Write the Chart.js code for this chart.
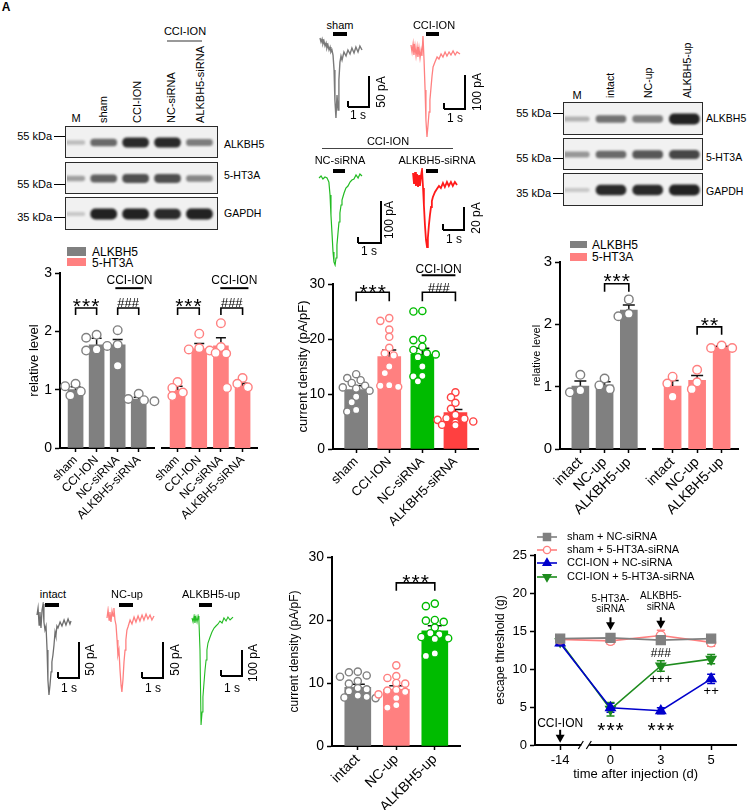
<!DOCTYPE html>
<html><head><meta charset="utf-8">
<script src="https://cdn.jsdelivr.net/npm/chart.js"></script>
<style>
html,body{margin:0;padding:0;background:#fff}
body{position:relative;width:749px;height:811px;overflow:hidden;font-family:"Liberation Sans",Arial,Helvetica,sans-serif}
canvas{position:absolute}
.t{position:absolute;white-space:nowrap;line-height:1;color:#000}
.r{position:absolute}
.fr{position:absolute;box-sizing:border-box;border:1.5px solid #2a2a2a;background:#f1f1f1}
</style></head><body>
<script>
// ================= DATA =================
// Western blot (relative band intensity 0..1)
const blotALanes = ['M','sham','CCI-ION','NC-siRNA','ALKBH5-siRNA'];
const blotProteins = ['ALKBH5','5-HT3A','GAPDH'];
const blotMarkers = ['55 kDa','55 kDa','35 kDa'];
const blotA_ALKBH5 = [0.15,0.6,0.95,0.95,0.5];
const blotA_5HT3A  = [0.3,0.65,0.75,0.75,0.45];
const blotA_GAPDH  = [0.08,1.0,1.0,0.95,1.0];
const blotBLanes = ['M','intact','NC-up','ALKBH5-up'];
const blotB_ALKBH5 = [0.2,0.55,0.5,1.0];
const blotB_5HT3A  = [0.35,0.6,0.7,0.8];
const blotB_GAPDH  = [0.08,0.95,0.95,1.0];

// Current traces: [time (s), current (pA)]
const traceSham = [[0,19.4],[0.05,12.9],[0.1,17.7],[0.14,9.7],[0.19,14.5],[0.24,6.5],[0.29,11.3],[0.33,3.2],[0.38,8.1],[0.43,0],[0.48,4.8],[0.52,-3.2],[0.57,0],[0.62,-8.1],[0.67,-32.3],[0.71,-80.6],[0.76,-109.7],[0.81,-72.6],[0.86,-96.8],[0.9,-48.4],[0.95,-19.4],[1.0,-9.7],[1.05,-16.1],[1.14,-3.2],[1.24,-9.7],[1.33,0],[1.43,-6.5],[1.52,3.2],[1.62,-4.8],[1.71,4.8],[1.81,-3.2],[1.9,6.5],[2.0,0]];
const traceCCI = [[0,29.4],[0.05,8.8],[0.1,32.4],[0.14,0],[0.19,26.5],[0.24,-2.9],[0.29,23.5],[0.33,-5.9],[0.38,20.6],[0.43,-8.8],[0.48,14.7],[0.52,-2.9],[0.57,55.9],[0.62,-14.7],[0.67,-102.9],[0.71,-191.2],[0.76,-241.2],[0.81,-205.9],[0.86,-167.6],[0.9,-132.4],[0.95,-97.1],[1.0,-61.8],[1.05,-35.3],[1.14,-20.6],[1.24,-5.9],[1.33,-11.8],[1.43,2.9],[1.52,-5.9],[1.62,8.8],[1.71,-2.9],[1.81,8.8],[1.9,0],[2.0,11.8],[2.1,0],[2.19,8.8],[2.33,2.9]];
const traceNCsiRNA = [[0,4.7],[0.09,9.3],[0.17,2.3],[0.26,7.0],[0.35,4.7],[0.43,-4.7],[0.48,-34.9],[0.52,-81.4],[0.57,-127.9],[0.61,-167.4],[0.65,-190.7],[0.7,-197.7],[0.74,-181.4],[0.78,-151.2],[0.83,-120.9],[0.87,-97.7],[0.91,-76.7],[0.96,-58.1],[1.0,-46.5],[1.09,-30.2],[1.17,-18.6],[1.26,-14.0],[1.35,-4.7],[1.43,0],[1.52,2.3],[1.61,11.6],[1.7,4.7],[1.78,14.0],[1.87,9.3]];
const traceALKsiRNA = [[0,6.1],[0.05,-3.5],[0.1,7.0],[0.14,-5.2],[0.19,5.2],[0.24,-6.1],[0.29,4.3],[0.33,-5.2],[0.38,3.5],[0.43,8.7],[0.48,-7.0],[0.52,-21.7],[0.57,-39.1],[0.62,-52.2],[0.67,-58.3],[0.71,-50.4],[0.76,-39.1],[0.81,-30.4],[0.86,-23.5],[0.9,-18.3],[0.95,-14.8],[1.05,-10.4],[1.14,-7.8],[1.24,-5.2],[1.33,-7.0],[1.43,-2.6],[1.52,-6.1],[1.62,-1.7],[1.71,-5.2],[1.81,-1.7],[1.9,-5.2],[2.0,-1.7],[2.1,-4.3]];
const traceIntact = [[0,9.7],[0.05,19.4],[0.1,-4.2],[0.14,13.9],[0.19,-8.3],[0.24,16.7],[0.29,25.0],[0.33,0],[0.38,-11.1],[0.43,-5.6],[0.48,-38.9],[0.52,-80.6],[0.57,-101.4],[0.62,-87.5],[0.67,-69.4],[0.71,-55.6],[0.76,-45.8],[0.81,-31.9],[0.86,-13.9],[0.9,-19.4],[0.95,-5.6],[1.0,-8.3],[1.1,0],[1.19,-5.6],[1.29,2.8],[1.38,-4.2],[1.48,4.2],[1.57,-2.8],[1.62,1.4]];
const traceNCup = [[0,2.8],[0.05,13.9],[0.1,0],[0.14,11.1],[0.19,-2.8],[0.24,12.5],[0.29,5.6],[0.33,16.7],[0.38,0],[0.43,-6.9],[0.48,-27.8],[0.52,-48.6],[0.57,-41.7],[0.62,-69.4],[0.67,-90.3],[0.71,-100.0],[0.76,-83.3],[0.81,-58.3],[0.86,-41.7],[0.9,-27.8],[0.95,-13.9],[1.0,-9.7],[1.1,0],[1.19,-5.6],[1.29,4.2],[1.38,-2.8],[1.48,5.6],[1.57,-1.4],[1.67,6.9],[1.76,0],[1.86,8.3],[1.95,1.4],[2.05,6.9],[2.14,0],[2.24,5.6]];
const traceALKup = [[0,7.7],[0.05,-7.7],[0.1,15.4],[0.14,-11.5],[0.19,11.5],[0.24,-7.7],[0.29,15.4],[0.33,-3.8],[0.38,-115.4],[0.43,-403.8],[0.48,-353.8],[0.52,-296.2],[0.57,-242.3],[0.62,-192.3],[0.67,-153.8],[0.71,-115.4],[0.76,-88.5],[0.86,-65.4],[0.95,-46.2],[1.05,-30.8],[1.14,-23.1],[1.24,-15.4],[1.33,-3.8],[1.43,-11.5],[1.52,7.7],[1.62,-3.8],[1.71,11.5],[1.81,0],[1.95,11.5]];

// Panel: relative level (CCI-ION / siRNA)
const groupsC = ['sham','CCI-ION','NC-siRNA','ALKBH5-siRNA'];
const alkC_mean = [1.00,1.77,1.77,0.84];
const alkC_sem  = [0.05,0.11,0.09,0.03];
const alkC_pts  = [[1.10,1.06,0.97,0.90],[1.94,1.89,1.69,1.67],[2.02,1.77,1.75,1.41],[0.93,0.84,0.82,0.80]];
const htC_mean  = [1.00,1.70,1.75,1.07];
const htC_sem   = [0.06,0.09,0.14,0.04];
const htC_pts   = [[1.13,1.03,0.95,0.89],[1.96,1.71,1.67,1.69],[2.14,1.73,1.63,1.62],[1.20,1.10,1.03,1.04]];

// Panel: current density (CCI-ION / siRNA)
const curD_mean = [10.8,16.8,17.2,6.6];
const curD_sem  = [0.7,1.2,1.1,0.6];
const curD_pts  = [
  [13.6,12.9,12.5,12.0,11.5,11.2,11.0,10.6,9.5,8.5,7.1,6.8],
  [23.8,23.3,21.7,20.4,18.4,17.4,17.0,15.0,13.8,11.5,11.6,11.3],
  [25.1,25.0,20.0,19.8,18.6,18.0,17.4,17.2,16.7,15.0,13.3,13.2,12.3],
  [10.3,9.4,8.4,7.3,6.2,5.6,5.5,5.3,5.0,4.8,4.4,4.3]];

// Panel: relative level (overexpression)
const groupsE = ['intact','NC-up','ALKBH5-up'];
const alkE_mean = [1.01,1.03,2.23];
const alkE_sem  = [0.08,0.05,0.08];
const alkE_pts  = [[1.19,0.94,0.91],[1.13,1.02,0.96],[2.40,2.17,2.13]];
const htE_mean  = [1.01,1.10,1.63];
const htE_sem   = [0.09,0.08,0.02];
const htE_pts   = [[1.16,1.05,0.84],[1.27,1.07,0.96],[1.66,1.62,1.62]];

// Panel: current density (overexpression)
const curF_mean = [9.3,9.0,18.3];
const curF_sem  = [0.5,0.55,0.8];
const curF_pts  = [
  [11.8,11.7,11.2,11.0,10.3,9.9,9.2,9.0,8.7,8.0,7.8,7.7,7.6],
  [12.8,11.1,10.8,10.0,9.9,8.9,8.8,8.6,8.2,7.6,6.5,6.1],
  [22.6,22.2,20.0,19.9,19.7,18.8,17.9,17.7,17.3,17.1,17.0,14.7,14.3]];

// Panel: escape threshold time course
const daysG = ['-14','0','3','5'];
const legendG = ['sham + NC-siRNA','sham + 5-HT3A-siRNA','CCI-ION + NC-siRNA','CCI-ION + 5-HT3A-siRNA'];
const shamNC   = [14.0,14.1,13.8,14.0];
const sham5HT  = [13.9,13.7,14.4,13.5];
const cciNC    = [13.4,4.9,4.5,8.7];
const cci5HT   = [13.6,4.7,10.4,11.3];
const shamNC_err  = [0.3,0.3,0.3,0.3];
const sham5HT_err = [0.3,0.4,0.7,0.5];
const cciNC_err   = [0.3,0.6,0.4,0.6];
const cci5HT_err  = [0.3,0.9,0.7,0.6];
const seriesG = [shamNC, sham5HT, cciNC, cci5HT];
const errG = [shamNC_err, sham5HT_err, cciNC_err, cci5HT_err];

// ================= HELPERS =================
const FONT = '"Liberation Sans", Arial, sans-serif';
Chart.defaults.font.family = FONT;
Chart.defaults.color = '#000';
Chart.defaults.animation = false;
Chart.defaults.responsive = false;
Chart.defaults.maintainAspectRatio = false;
Chart.defaults.plugins.legend.display = false;
Chart.defaults.plugins.tooltip.enabled = false;
Chart.defaults.events = [];

const GRAY='#808080', PINK='#ff8080', GREEN='#00bb00', RED='#ff4040';

function T(text,x,y,o={}){
  const d=document.createElement('div');d.className='t';d.textContent=text;
  d.style.fontSize=(o.size||11)+'px';d.style.left=x+'px';d.style.top=y+'px';
  if(o.bold)d.style.fontWeight='bold';
  let tf;
  if(o.rot==='up'){d.style.transformOrigin='0 0';tf='rotate(-90deg) translate(0,-50%)';}
  else if(o.rot==='v'){tf='translate(-50%,-50%) rotate(-90deg)';}
  else if(o.align==='right'){tf='translate(-100%,-50%)';}
  else if(o.align==='left'){tf='translate(0,-50%)';}
  else tf='translate(-50%,-50%)';
  d.style.transform=tf;document.body.appendChild(d);
}
function R(x,y,w,h,c){const d=document.createElement('div');d.className='r';
  Object.assign(d.style,{left:x+'px',top:y+'px',width:w+'px',height:h+'px',background:c});document.body.appendChild(d);}
function cv(l,t,w,h){const c=document.createElement('canvas');c.width=w;c.height=h;
  Object.assign(c.style,{left:l+'px',top:t+'px',width:w+'px',height:h+'px'});document.body.appendChild(c);return c;}
const fix = sz => s => { if(s.isHorizontal()) s.height=sz; else s.width=sz; s.paddingLeft=s.paddingRight=s.paddingTop=s.paddingBottom=0; };

function swarm(vals,pxX,pxY,r){
  const placed=[],out=new Array(vals.length);
  const order=vals.map((v,i)=>i).sort((a,b)=>vals[b]-vals[a]);
  const cand=[0,-1,1,-2,2,-3,3,-4,4],step=r*1.25;
  order.forEach(i=>{
    const yp=vals[i]*pxY;
    for(const c of cand){const xp=c*step;
      if(placed.every(p=>Math.hypot(p.x-xp,p.y-yp)>=2*r*0.92)){placed.push({x:xp,y:yp});out[i]=xp/pxX;return;}}
    placed.push({x:0,y:yp});out[i]=0;
  });
  return out;
}

function errPlugin(means,sems,capW){return{id:'err',afterDatasetDraw(ch,args){
  if(args.index!==0)return;const ctx=ch.ctx,xs=ch.scales.x,ys=ch.scales.y;
  ctx.save();ctx.strokeStyle='#111';ctx.lineWidth=1.5;
  means.forEach((m,i)=>{const x=xs.getPixelForValue(i),y0=ys.getPixelForValue(m),y1=ys.getPixelForValue(m+sems[i]);
    ctx.beginPath();ctx.moveTo(x,y0);ctx.lineTo(x,y1);ctx.moveTo(x-capW/2,y1);ctx.lineTo(x+capW/2,y1);ctx.stroke();});
  ctx.restore();}};}

function annotPlugin(items){return{id:'annot',afterDraw(ch){
  const ctx=ch.ctx,xs=ch.scales.x,ys=ch.scales.y;ctx.save();ctx.strokeStyle='#000';ctx.fillStyle='#000';
  ctx.textAlign='center';ctx.textBaseline='alphabetic';
  const txt=(s,x,cy,size)=>{const ast=s.includes('*');ctx.font=size+'px '+FONT;
    ctx.letterSpacing=ast?'1px':'0px';ctx.fillText(s,x+(ast?0.5:0),cy+(ast?0.57:0.36)*size);};
  items.forEach(a=>{
    if(a.k==='br'){const x1=xs.getPixelForValue(a.a),x2=xs.getPixelForValue(a.b),y=ys.getPixelForValue(a.y);
      ctx.lineWidth=1.6;ctx.beginPath();ctx.moveTo(x1,y+a.drop);ctx.lineTo(x1,y);ctx.lineTo(x2,y);ctx.lineTo(x2,y+a.drop);ctx.stroke();
      txt(a.text,(x1+x2)/2,y+a.dc,a.size);}
    else if(a.k==='ln'){const x1=xs.getPixelForValue(a.a),x2=xs.getPixelForValue(a.b),y=ys.getPixelForValue(a.y);
      ctx.lineWidth=2;ctx.beginPath();ctx.moveTo(x1,y);ctx.lineTo(x2,y);ctx.stroke();txt(a.text,(x1+x2)/2,y+a.dc,a.size);}
    else if(a.k==='tx'){txt(a.text,xs.getPixelForValue(a.x),ys.getPixelForValue(a.y),a.size);}
    else if(a.k==='ar'){const x=xs.getPixelForValue(a.x),y1=ys.getPixelForValue(a.y1),y2=ys.getPixelForValue(a.y2);
      ctx.lineWidth=2;ctx.beginPath();ctx.moveTo(x,y1);ctx.lineTo(x,y2-6);ctx.stroke();
      ctx.beginPath();ctx.moveTo(x-4.5,y2-8);ctx.lineTo(x+4.5,y2-8);ctx.lineTo(x,y2);ctx.closePath();ctx.fill();}
  });ctx.restore();}};}

function barPanel(o){
  const w=o.plotR-o.cl+o.padR,h=o.plotB-o.ct+o.xH;const c=cv(o.cl,o.ct,w,h);
  const pxX=(o.plotR-o.plotL)/(o.xMax-o.xMin),pxY=(o.plotB-o.plotT)/(o.yMax-o.yMin);
  const sc=[],scCol=[];
  o.pts.forEach((vals,gi)=>{const off=swarm(vals,pxX,pxY,o.r);vals.forEach((v,k)=>{sc.push({x:gi+off[k],y:v});scCol.push(o.colors[gi]);});});
  new Chart(c,{type:'bar',data:{datasets:[
    {type:'bar',data:o.means.map((v,i)=>({x:i,y:v})),backgroundColor:o.colors,barThickness:o.barW,order:2},
    {type:'scatter',data:sc,pointRadius:o.r,pointBackgroundColor:'#fff',pointBorderColor:scCol,pointBorderWidth:1.4,clip:false,order:1}
  ]},options:{
    layout:{padding:{left:o.showY?0:o.plotL-o.cl,top:o.plotT-o.ct,right:o.padR,bottom:0}},
    scales:{
      x:{type:'linear',offset:false,min:o.xMin,max:o.xMax,
        afterBuildTicks:s=>{s.ticks=o.labels.map((_,i)=>({value:i}));},
        ticks:{autoSkip:false,minRotation:45,maxRotation:45,padding:1,font:{size:o.xSize},callback:(v,i)=>o.labels[i]},
        grid:{display:true,offset:false,drawOnChartArea:false,drawTicks:true,tickLength:4,tickColor:'#000',tickWidth:1.5},
        border:{display:true,color:'#000',width:2},afterFit:fix(o.xH)},
      y:{display:o.showY,min:o.yMin,max:o.yMax,
        ticks:{stepSize:o.yStep,font:{size:o.tickSize},padding:3},
        grid:{drawOnChartArea:false,tickLength:5,tickColor:'#000',tickWidth:1.5},
        border:{color:'#000',width:2},
        title:{display:!!o.yTitle,text:o.yTitle||'',font:{size:o.titleSize||13},padding:0},
        afterFit:fix(o.showY?o.plotL-o.cl:0)}
    }},
    plugins:[errPlugin(o.means,o.sems,o.capW),annotPlugin(o.annots||[])]});
}

const blurPlugin={id:'blur',beforeDatasetsDraw(ch){ch.ctx.save();ch.ctx.filter='blur(1px)';},afterDatasetsDraw(ch){ch.ctx.restore();}};
function blotRow(l,t,w,h,vals,xMin,xMax,bandW){
  const f=document.createElement('div');f.className='fr';
  Object.assign(f.style,{left:l+'px',top:t+'px',width:w+'px',height:h+'px'});document.body.appendChild(f);
  const c=cv(l+1.5,t+1.5,w-3,h-3);
  new Chart(c,{type:'bar',data:{datasets:[{
    data:vals.map((v,i)=>({x:i,y:[0.5-(0.05+0.12*v),0.5+(0.05+0.12*v)]})),
    backgroundColor:vals.map(v=>'rgba(22,22,22,'+(0.12+0.83*v).toFixed(2)+')'),
    barThickness:bandW,borderRadius:5,borderSkipped:false}]},
    options:{layout:{padding:0},scales:{x:{type:'linear',offset:false,display:false,min:xMin,max:xMax},y:{display:false,min:0,max:1}}},
    plugins:[blurPlugin]});
}

function trace(l,t,w,h,pts,color,lw){
  const c=cv(l,t,w,h);const xs=pts.map(p=>p[0]),ys=pts.map(p=>p[1]);
  new Chart(c,{type:'line',data:{datasets:[{data:pts.map(p=>({x:p[0],y:p[1]})),borderColor:color,borderWidth:lw,pointRadius:0,tension:0,clip:false}]},
    options:{layout:{padding:2},scales:{x:{type:'linear',display:false,min:Math.min(...xs),max:Math.max(...xs)},y:{display:false,min:Math.min(...ys),max:Math.max(...ys)}}}});
}
function scaleBar(x1,x2,y,vtop,sx,sy,pa,px,py){
  R(x1,y-0.75,x2-x1+0.75,1.5,'#000');R(x2-0.75,vtop,1.5,y-vtop+0.75,'#000');R(x1-0.75,y-6,1.5,6,'#000');
  T('1 s',sx,sy,{size:12});T(pa,px,py,{size:12,rot:'v'});
}

// ================= BLOT PANELS =================
T('A',6,7,{size:12,bold:true});
T('M',76,118);
[['sham',103],['CCI-ION',137],['NC-siRNA',171],['ALKBH5-siRNA',200]].forEach(([s,x])=>T(s,x,123,{rot:'up'}));
T('CCI-ION',185,31);R(167,40,35,1.5,'#999');
[[136],[184],[217]].forEach(([y],i)=>{T(blotMarkers[i],52,y,{align:'right'});R(54,y-0.5,11,1.2,'#000');});
blotRow(65,126,153,32,blotA_ALKBH5,-0.15,4.55,26);
blotRow(65,162,153,32,blotA_5HT3A,-0.15,4.55,26);
blotRow(65,197,153,33,blotA_GAPDH,-0.15,4.55,26);
[[144],[175],[213]].forEach(([y],i)=>T(blotProteins[i],224,y,{size:10.5,align:'left'}));

T('M',577,95);
[['intact',610],['NC-up',648],['ALKBH5-up',687]].forEach(([s,x])=>T(s,x,98,{size:10.5,rot:'up'}));
[[113],[158],[193]].forEach(([y],i)=>{T(blotMarkers[i],551,y,{align:'right'});R(553,y-0.5,10,1.2,'#000');});
blotRow(563,102,140,33,blotB_ALKBH5,-0.253,3.48,30);
blotRow(563,138,140,32,blotB_5HT3A,-0.253,3.48,30);
blotRow(563,173,140,33,blotB_GAPDH,-0.253,3.48,30);
[[118],[157],[191]].forEach(([y],i)=>T(blotProteins[i],706,y,{size:10.5,align:'left'}));

// ================= TRACES =================
T('sham',340,25);R(333,32,14,3.5,'#000');
trace(318,36,46,84,traceSham,'#7a7a7a',1.4);
scaleBar(348,369,107,76,358,115,'50 pA',381,92);
T('CCI-ION',434,25);R(426,32,13,3.5,'#000');
trace(409,34,53,105,traceCCI,'#ff8080',1.3);
scaleBar(444,465,109,75,455,118,'100 pA',477,92);
T('CCI-ION',388,141);R(322,148,131,1,'#444');
T('NC-siRNA',340,160);R(333,169,12,3.5,'#000');
trace(317,172,47,95,traceNCsiRNA,'#22bb22',1.2);
scaleBar(358,381,243,201,369,251,'100 pA',389,220);
T('ALKBH5-siRNA',437,160);R(426,169,12,3.5,'#000');
trace(411,168,48,81,traceALKsiRNA,'#ff1a1a',1.8);
scaleBar(443,464,230,207,454,239,'20 pA',476,218);

T('intact',53,594);R(45,603,14,3.5,'#000');
trace(35,602,38,95,traceIntact,'#6e6e6e',1.3);
scaleBar(58,79,678,642,69,688,'50 pA',90,660);
T('NC-up',127,594);R(119,603,14,3.5,'#000');
trace(105,606,51,88,traceNCup,'#ff8080',1.3);
scaleBar(142,163,678,642,153,688,'50 pA',175,660);
T('ALKBH5-up',211,594);R(199,603,13,3.5,'#000');
trace(190,614,45,113,traceALKup,'#22bb22',1.1);
scaleBar(221,242,676,650,232,688,'100 pA',253,663);

// ================= BAR PANELS =================
R(67,247,19,9,GRAY);R(67,258,19,8,PINK);
T('ALKBH5',92,252,{size:12,align:'left'});T('5-HT3A',92,263,{size:12,align:'left'});
barPanel({cl:27,ct:263,plotL:60,plotT:273,plotR:157,plotB:448,padR:3,xH:80,showY:true,
  yMin:0,yMax:3,yStep:1,xMin:-0.74,xMax:3.74,labels:groupsC,means:alkC_mean,sems:alkC_sem,pts:alkC_pts,
  colors:[GRAY,GRAY,GRAY,GRAY],r:4.3,barW:15,capW:10,yTitle:'relative level',titleSize:13,tickSize:14,xSize:12,
  annots:[{k:'br',a:0,b:1,y:2.4,drop:7,text:'***',size:21,dc:-7},{k:'br',a:2,b:3,y:2.4,drop:7,text:'###',size:13,dc:-6},
          {k:'ln',a:1.89,b:3.23,y:2.74,text:'CCI-ION',size:12,dc:-8}]});
barPanel({cl:110,ct:263,plotL:162,plotT:273,plotR:260,plotB:448,padR:3,xH:80,showY:false,
  yMin:0,yMax:3,yStep:1,xMin:-0.72,xMax:3.68,labels:groupsC,means:htC_mean,sems:htC_sem,pts:htC_pts,
  colors:[PINK,PINK,PINK,PINK],r:4.3,barW:15,capW:10,xSize:12,
  annots:[{k:'br',a:0,b:1,y:2.4,drop:7,text:'***',size:21,dc:-7},{k:'br',a:2,b:3,y:2.4,drop:7,text:'###',size:13,dc:-6},
          {k:'ln',a:1.97,b:3.27,y:2.74,text:'CCI-ION',size:12,dc:-8}]});

barPanel({cl:296,ct:255,plotL:333,plotT:284,plotR:480,plotB:449,padR:4,xH:85,showY:true,
  yMin:0,yMax:30,yStep:10,xMin:-0.7,xMax:3.7,labels:groupsC,means:curD_mean,sems:curD_sem,pts:curD_pts,
  colors:[GRAY,PINK,GREEN,RED],r:3.6,barW:23,capW:14,yTitle:'current density (pA/pF)',titleSize:13,tickSize:14,xSize:13,
  annots:[{k:'br',a:0,b:1,y:28.5,drop:9,text:'***',size:21,dc:-5},{k:'br',a:2,b:3,y:28.5,drop:9,text:'###',size:13,dc:-5},
          {k:'ln',a:1.98,b:3.0,y:31.6,text:'CCI-ION',size:12,dc:-7}]});

R(570,241,17,7,GRAY);R(570,253,17,8,PINK);
T('ALKBH5',592,245,{size:12,align:'left'});T('5-HT3A',592,257,{size:12,align:'left'});
barPanel({cl:530,ct:250,plotL:560,plotT:262,plotR:648,plotB:449,padR:3,xH:80,showY:true,
  yMin:0,yMax:3,yStep:1,xMin:-0.84,xMax:2.68,labels:groupsE,means:alkE_mean,sems:alkE_sem,pts:alkE_pts,
  colors:[GRAY,GRAY,GRAY],r:4.3,barW:17,capW:12,yTitle:'relative level',titleSize:11,tickSize:15,xSize:14,
  annots:[{k:'br',a:1,b:2,y:2.65,drop:8,text:'***',size:21,dc:-8}]});
barPanel({cl:600,ct:250,plotL:653,plotT:262,plotR:740,plotB:449,padR:4,xH:80,showY:false,
  yMin:0,yMax:3,yStep:1,xMin:-0.8,xMax:2.68,labels:groupsE,means:htE_mean,sems:htE_sem,pts:htE_pts,
  colors:[PINK,PINK,PINK],r:4.3,barW:17,capW:12,xSize:14,
  annots:[{k:'br',a:1,b:2,y:1.96,drop:8,text:'**',size:21,dc:-7}]});

barPanel({cl:287,ct:542,plotL:332,plotT:557,plotR:462,plotB:746,padR:4,xH:64,showY:true,
  yMin:0,yMax:30,yStep:10,xMin:-0.67,xMax:2.67,labels:groupsE,means:curF_mean,sems:curF_sem,pts:curF_pts,
  colors:[GRAY,PINK,GREEN],r:3.6,barW:26,capW:14,yTitle:'current density (pA/pF)',titleSize:12,tickSize:14,xSize:14,
  annots:[{k:'br',a:1,b:2,y:25.9,drop:8,text:'***',size:21,dc:-6}]});

// ================= TIME COURSE =================
const gSty=[{c:'#808080',ps:'rect',r:6.3,fill:'#808080',rot:0},{c:'#ff7f7f',ps:'circle',r:4.5,fill:'#fff',rot:0},
            {c:'#0000cc',ps:'triangle',r:5.5,fill:'#0000cc',rot:0},{c:'#1e8c1e',ps:'triangle',r:5.5,fill:'#1e8c1e',rot:180}];
function marker(ctx,s,x,y,k){ctx.save();ctx.fillStyle=s.fill;ctx.strokeStyle=s.c;ctx.lineWidth=1.4;ctx.beginPath();const r=s.r*k;
  if(s.ps==='rect'){const h=r*Math.SQRT1_2;ctx.rect(x-h,y-h,2*h,2*h);}
  else if(s.ps==='circle'){ctx.arc(x,y,r,0,Math.PI*2);}
  else{const d=s.rot?-1:1;ctx.moveTo(x,y-d*r);ctx.lineTo(x-0.866*r,y+d*0.5*r);ctx.lineTo(x+0.866*r,y+d*0.5*r);ctx.closePath();}
  ctx.fill();ctx.stroke();ctx.restore();}
const gErr={id:'gerr',beforeDatasetsDraw(ch){const ctx=ch.ctx,xs=ch.scales.x,ys=ch.scales.y;ctx.save();ctx.lineWidth=1.5;
  seriesG.forEach((vals,i)=>{ctx.strokeStyle=gSty[i].c;vals.forEach((v,j)=>{const x=xs.getPixelForValue(j),
    y1=ys.getPixelForValue(v-errG[i][j]),y2=ys.getPixelForValue(v+errG[i][j]);ctx.beginPath();ctx.moveTo(x,y1);ctx.lineTo(x,y2);
    ctx.moveTo(x-4,y1);ctx.lineTo(x+4,y1);ctx.moveTo(x-4,y2);ctx.lineTo(x+4,y2);ctx.stroke();});});ctx.restore();}};
const gLegend={id:'glg',afterDraw(ch){const ctx=ch.ctx,a=ch.chartArea,x=a.left+12,tx=a.left+32,offs=[-18,-5,8,22];
  ctx.save();ctx.font='11px '+FONT;ctx.textBaseline='middle';ctx.textAlign='left';
  legendG.forEach((lab,i)=>{const y=a.top+offs[i],s=gSty[i];ctx.strokeStyle=s.c;ctx.lineWidth=1.6;ctx.beginPath();
    ctx.moveTo(x-10,y);ctx.lineTo(x+10,y);ctx.stroke();marker(ctx,s,x,y,0.8);ctx.fillStyle='#000';ctx.fillText(lab,tx,y);});
  ctx.restore();}};
const gBreak={id:'brk',afterDraw(ch){const ctx=ch.ctx,xs=ch.scales.x,b=ch.chartArea.bottom;
  const x=(xs.getPixelForValue(0)+xs.getPixelForValue(1))/2;ctx.save();ctx.fillStyle='#fff';ctx.fillRect(x-4,b-3,8,6);
  ctx.strokeStyle='#000';ctx.lineWidth=1.2;ctx.beginPath();ctx.moveTo(x-7,b+4);ctx.lineTo(x-2,b-4);ctx.moveTo(x+1,b+4);ctx.lineTo(x+6,b-4);
  ctx.stroke();ctx.restore();}};
const annotsG=[{k:'tx',x:1,y:19.3,text:'5-HT3A-',size:10},{k:'tx',x:1,y:18.0,text:'siRNA',size:10},{k:'ar',x:1,y1:16.8,y2:15.1},
  {k:'tx',x:2,y:19.7,text:'ALKBH5-',size:10},{k:'tx',x:2,y:18.3,text:'siRNA',size:10},{k:'ar',x:2,y1:16.8,y2:15.3},
  {k:'tx',x:0,y:2.9,text:'CCI-ION',size:12},{k:'ar',x:0,y1:2.0,y2:0.3},
  {k:'tx',x:1,y:2.6,text:'***',size:21},{k:'tx',x:2,y:2.6,text:'***',size:21},
  {k:'tx',x:2,y:12.1,text:'###',size:12},{k:'tx',x:2,y:8.8,text:'+++',size:13},{k:'tx',x:3,y:7.2,text:'++',size:13}];
const cG=cv(493,525,251,257);
new Chart(cG,{type:'line',data:{labels:daysG,datasets:seriesG.map((vals,i)=>({data:vals,borderColor:gSty[i].c,borderWidth:1.6,
  pointStyle:gSty[i].ps,pointRadius:gSty[i].r,pointRotation:gSty[i].rot,pointBackgroundColor:gSty[i].fill,
  pointBorderColor:gSty[i].c,pointBorderWidth:1.4,tension:0,clip:false}))},
  options:{layout:{padding:{left:0,top:30,right:6,bottom:0}},scales:{
    x:{type:'category',offset:true,ticks:{font:{size:13},padding:3},
       grid:{display:true,offset:false,drawOnChartArea:false,tickLength:5,tickColor:'#000',tickWidth:1.5},
       border:{color:'#000',width:2},title:{display:true,text:'time after injection (d)',font:{size:13},padding:0},afterFit:fix(37)},
    y:{min:0,max:25,ticks:{stepSize:5,font:{size:13},padding:3},
       grid:{drawOnChartArea:false,tickLength:5,tickColor:'#000',tickWidth:1.5},border:{color:'#000',width:2},
       title:{display:true,text:'escape threshold (g)',font:{size:12},padding:0},afterFit:fix(42)}}},
  plugins:[gErr,gLegend,gBreak,annotPlugin(annotsG)]});
</script>
</body></html>
